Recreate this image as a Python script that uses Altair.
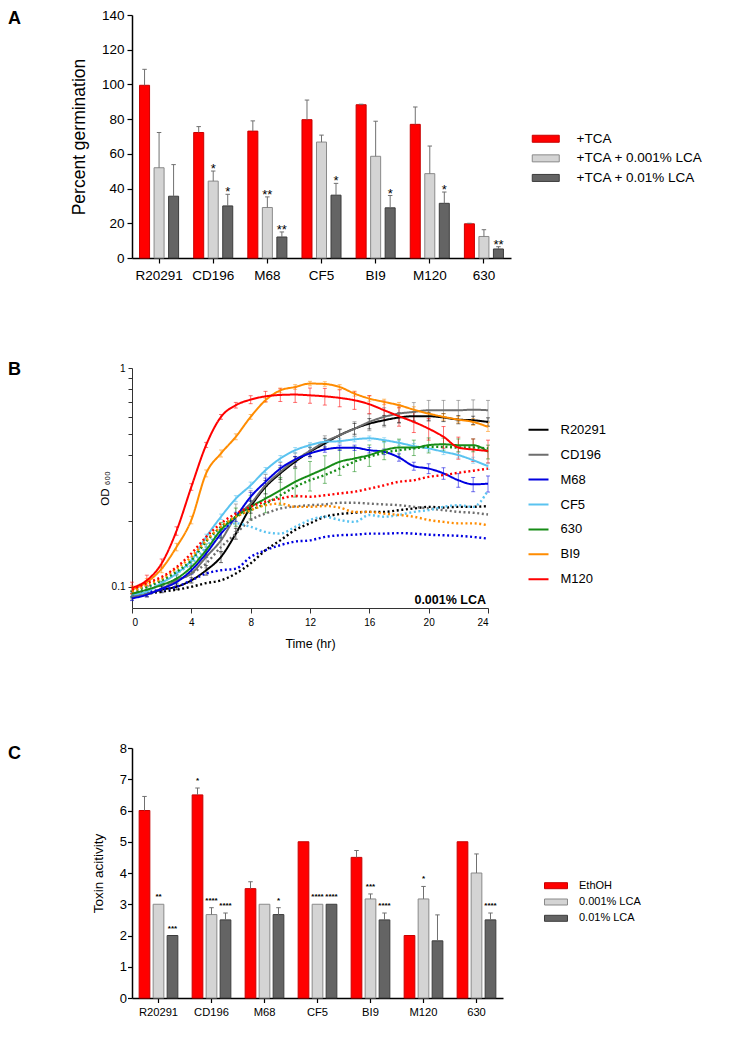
import altair as alt
import pandas as pd

FONT = "Liberation Sans"

# ---------------- Panel A : germination ----------------
strains = ["R20291", "CD196", "M68", "CF5", "BI9", "M120", "630"]
treat_A = ["+TCA", "+TCA + 0.001% LCA", "+TCA + 0.01% LCA"]
germ_tca = [99.5, 72.3, 73.1, 79.7, 88.3, 77.0, 19.7]
germ_tca_err = [9.2, 3.4, 5.9, 11.3, 0.3, 10.0, 0.3]
germ_lca1 = [52.0, 44.3, 29.1, 66.8, 58.6, 48.6, 12.4]
germ_lca1_err = [20.3, 5.8, 6.1, 4.0, 20.2, 15.9, 3.9]
germ_lca2 = [35.6, 30.0, 12.1, 36.2, 28.9, 31.5, 5.2]
germ_lca2_err = [18.2, 6.7, 2.9, 6.8, 7.1, 6.5, 1.3]
stars_A_tca = ["", "", "", "", "", "", ""]
stars_A_lca1 = ["", "*", "**", "", "", "", ""]
stars_A_lca2 = ["", "*", "**", "*", "*", "*", "**"]

# ---------------- Panel B : growth curves ----------------
hours = list(range(0, 25))
strains_B = ["R20291", "CD196", "M68", "CF5", "630", "BI9", "M120"]
colors_B = ["#000000", "#6e6e6e", "#0000e0", "#5ac3f0", "#168c16", "#ff8c00", "#ff0000"]

od_ctrl = {
    "R20291": [0.092, 0.093, 0.097, 0.100, 0.107, 0.119, 0.137, 0.175, 0.232, 0.286, 0.330, 0.373, 0.414,
               0.452, 0.493, 0.528, 0.557, 0.577, 0.594, 0.602, 0.602, 0.594, 0.581, 0.577, 0.567],
    "CD196": [0.090, 0.093, 0.098, 0.107, 0.115, 0.137, 0.163, 0.209, 0.240, 0.291, 0.335, 0.379, 0.418,
              0.460, 0.493, 0.528, 0.567, 0.598, 0.619, 0.630, 0.641, 0.641, 0.641, 0.645, 0.641],
    "M68": [0.0885, 0.092, 0.098, 0.105, 0.119, 0.142, 0.175, 0.209, 0.258, 0.302, 0.347, 0.382, 0.407,
            0.424, 0.432, 0.432, 0.421, 0.414, 0.390, 0.356, 0.347, 0.330, 0.307, 0.294, 0.296],
    "CF5": [0.092, 0.095, 0.104, 0.115, 0.132, 0.169, 0.209, 0.253, 0.291, 0.341, 0.386, 0.421, 0.444,
            0.460, 0.463, 0.472, 0.477, 0.468, 0.455, 0.440, 0.429, 0.414, 0.400, 0.379, 0.356],
    "630": [0.093, 0.097, 0.102, 0.109, 0.123, 0.147, 0.182, 0.209, 0.232, 0.253, 0.276, 0.302, 0.324,
            0.347, 0.373, 0.386, 0.400, 0.421, 0.433, 0.433, 0.444, 0.448, 0.444, 0.444, 0.414],
    "BI9": [0.097, 0.105, 0.121, 0.152, 0.202, 0.330, 0.407, 0.485, 0.598, 0.712, 0.790, 0.819, 0.849,
            0.845, 0.819, 0.764, 0.725, 0.700, 0.676, 0.645, 0.619, 0.598, 0.581, 0.567, 0.538],
    "M120": [0.099, 0.107, 0.128, 0.180, 0.286, 0.445, 0.598, 0.676, 0.717, 0.742, 0.753, 0.756, 0.750,
             0.742, 0.730, 0.712, 0.683, 0.641, 0.602, 0.567, 0.528, 0.485, 0.433, 0.424, 0.418],
}
od_err = {
    "R20291": [0.003, 0.003, 0.003, 0.003, 0.003, 0.006, 0.008, 0.010, 0.015, 0.020, 0.020, 0.020, 0.020,
               0.025, 0.030, 0.030, 0.030, 0.030, 0.030, 0.030, 0.025, 0.025, 0.025, 0.025, 0.025],
    "CD196": [0.003, 0.003, 0.004, 0.006, 0.010, 0.015, 0.020, 0.030, 0.035, 0.035, 0.035, 0.030, 0.030,
              0.030, 0.035, 0.040, 0.050, 0.060, 0.060, 0.065, 0.070, 0.070, 0.070, 0.070, 0.070],
    "M68": [0.002, 0.002, 0.003, 0.004, 0.005, 0.006, 0.008, 0.010, 0.012, 0.012, 0.012, 0.012, 0.012,
            0.012, 0.012, 0.012, 0.012, 0.012, 0.015, 0.015, 0.018, 0.020, 0.022, 0.022, 0.025],
    "CF5": [0.002, 0.002, 0.002, 0.003, 0.004, 0.005, 0.006, 0.008, 0.010, 0.010, 0.012, 0.012, 0.012,
            0.012, 0.012, 0.012, 0.012, 0.012, 0.012, 0.012, 0.012, 0.012, 0.012, 0.012, 0.012],
    "630": [0.003, 0.003, 0.004, 0.005, 0.008, 0.010, 0.015, 0.020, 0.030, 0.035, 0.040, 0.045, 0.050,
            0.050, 0.050, 0.050, 0.045, 0.040, 0.040, 0.035, 0.035, 0.030, 0.030, 0.030, 0.030],
    "BI9": [0.004, 0.004, 0.005, 0.006, 0.008, 0.012, 0.015, 0.015, 0.015, 0.015, 0.020, 0.020, 0.020,
            0.020, 0.020, 0.020, 0.020, 0.020, 0.020, 0.020, 0.020, 0.020, 0.020, 0.020, 0.025],
    "M120": [0.006, 0.006, 0.006, 0.008, 0.010, 0.012, 0.015, 0.020, 0.030, 0.040, 0.050, 0.060, 0.060,
             0.065, 0.065, 0.065, 0.065, 0.065, 0.060, 0.060, 0.060, 0.055, 0.050, 0.050, 0.050],
}
od_lca = {
    "R20291": [0.092, 0.093, 0.095, 0.097, 0.100, 0.104, 0.107, 0.115, 0.128, 0.147, 0.163, 0.182, 0.195,
               0.209, 0.215, 0.218, 0.220, 0.220, 0.224, 0.228, 0.232, 0.230, 0.232, 0.232, 0.234],
    "CD196": [0.093, 0.097, 0.102, 0.107, 0.115, 0.128, 0.152, 0.175, 0.202, 0.216, 0.228, 0.233, 0.236,
              0.238, 0.242, 0.242, 0.240, 0.238, 0.236, 0.232, 0.228, 0.224, 0.220, 0.218, 0.214],
    "M68": [0.093, 0.095, 0.097, 0.100, 0.107, 0.115, 0.119, 0.121, 0.137, 0.147, 0.155, 0.161, 0.163,
            0.169, 0.172, 0.173, 0.175, 0.175, 0.176, 0.175, 0.173, 0.172, 0.171, 0.169, 0.166],
    "CF5": [0.097, 0.100, 0.105, 0.115, 0.128, 0.152, 0.182, 0.195, 0.188, 0.178, 0.175, 0.188, 0.202,
            0.209, 0.202, 0.198, 0.213, 0.209, 0.213, 0.220, 0.224, 0.232, 0.236, 0.232, 0.276],
    "630": [0.095, 0.100, 0.107, 0.117, 0.132, 0.161, 0.188, 0.209, 0.224, 0.240, 0.262, 0.286, 0.307,
            0.324, 0.347, 0.373, 0.393, 0.410, 0.421, 0.429, 0.436, 0.436, 0.433, 0.433, 0.429],
    "BI9": [0.095, 0.102, 0.109, 0.121, 0.137, 0.163, 0.188, 0.209, 0.224, 0.236, 0.240, 0.232, 0.232,
            0.234, 0.230, 0.220, 0.220, 0.216, 0.213, 0.209, 0.202, 0.198, 0.195, 0.195, 0.191],
    "M120": [0.097, 0.104, 0.111, 0.123, 0.142, 0.169, 0.195, 0.216, 0.232, 0.245, 0.253, 0.260, 0.258,
             0.262, 0.267, 0.272, 0.281, 0.291, 0.302, 0.307, 0.318, 0.324, 0.332, 0.339, 0.347],
}
y_ticks_B = [0.1, 0.2, 0.3, 0.4, 0.5, 0.6, 0.7, 0.8, 0.9, 1.0]

# ---------------- Panel C : toxin activity ----------------
treat_C = ["EthOH", "0.001% LCA", "0.01% LCA"]
tox_eth = [6.0, 6.5, 3.5, 5.0, 4.5, 2.0, 5.0]
tox_eth_err = [0.45, 0.22, 0.22, 0.0, 0.22, 0.0, 0.0]
tox_lca1 = [3.0, 2.67, 3.0, 3.0, 3.17, 3.17, 4.0]
tox_lca1_err = [0.0, 0.22, 0.0, 0.0, 0.16, 0.40, 0.61]
tox_lca2 = [2.0, 2.5, 2.67, 3.0, 2.5, 1.83, 2.5]
tox_lca2_err = [0.0, 0.22, 0.22, 0.0, 0.22, 0.83, 0.22]
stars_C_eth = ["", "*", "", "", "", "", ""]
stars_C_lca1 = ["**", "****", "", "****", "***", "*", ""]
stars_C_lca2 = ["***", "****", "*", "****", "****", "", "****"]


def bar_frame(treats, vals, errs, stars):
    rows = []
    for ti, t in enumerate(treats):
        for si, s in enumerate(strains):
            v, e = vals[ti][si], errs[ti][si]
            rows.append(dict(strain=s, treat=t, value=v, err=e, top=v + e, star=stars[ti][si]))
    return pd.DataFrame(rows)


def anchor(y):
    # invisible spacer that fixes the vertical extent of a panel
    return alt.Chart(alt.Data(values=[{}])).mark_rule(opacity=0, strokeWidth=1).encode(
        x=alt.value(0), x2=alt.value(4), y=alt.value(y), y2=alt.value(y))


def panel_label(letter, y):
    return alt.Chart(alt.Data(values=[{}])).mark_text(
        text=letter, fontSize=18, fontWeight="bold", align="left", baseline="alphabetic", font=FONT
    ).encode(x=alt.value(-124), y=alt.value(y))


# wide, flat legend swatches (path wider than the nominal symbol size)
RECT_A = "M-3.857,-1L3.857,-1L3.857,1L-3.857,1Z"   # 27 x 7 px at size 49
RECT_C = "M-3.833,-1L3.833,-1L3.833,1L-3.833,1Z"   # 23 x 6 px at size 36

# ================= Panel A =================
A_W, A_H = 379, 243
dfA = bar_frame(treat_A, [germ_tca, germ_lca1, germ_lca2],
                [germ_tca_err, germ_lca1_err, germ_lca2_err],
                [stars_A_tca, stars_A_lca1, stars_A_lca2])

xA = alt.X("strain:N", sort=strains, scale=alt.Scale(domain=strains, paddingInner=0, paddingOuter=0),
           axis=alt.Axis(title=None, labelAngle=0, labelFontSize=13.5, labelColor="#000", labelPadding=5,
                         tickSize=5, tickColor="#000", tickWidth=1.2, domainColor="#000", domainWidth=1.5,
                         labelFont=FONT))
xoA = alt.XOffset("treat:N", sort=treat_A,
                  scale=alt.Scale(domain=treat_A, paddingInner=0.31, paddingOuter=0.52))
axisA_y = alt.Axis(title="Percent germination", values=list(range(0, 141, 20)), titleFontSize=17.5,
                   titleFontWeight="normal", titleColor="#000", titlePadding=13, titleFont=FONT,
                   labelFontSize=13.5, labelColor="#000", labelPadding=3, labelFont=FONT, tickSize=5,
                   tickColor="#000", tickWidth=1.2, domainColor="#000", domainWidth=1.5, grid=False)
scaleA_y = alt.Scale(domain=[0, 140], nice=False)

barsA = alt.Chart(dfA).mark_bar(strokeWidth=1).encode(
    x=xA, xOffset=xoA,
    y=alt.Y("value:Q", scale=scaleA_y, axis=axisA_y, title="Percent germination"),
    color=alt.Color("treat:N", sort=treat_A,
                    scale=alt.Scale(domain=treat_A, range=["#ff0000", "#d4d4d4", "#646464"]),
                    legend=alt.Legend(title=None, orient="none", legendX=407, legendY=117,
                                      symbolType=RECT_A, symbolSize=49, symbolStrokeWidth=1,
                                      symbolStrokeColor="#555", labelFontSize=13.5, labelFont=FONT,
                                      labelColor="#000", labelOffset=24, rowPadding=4.6, padding=0)),
    stroke=alt.Stroke("treat:N", sort=treat_A,
                      scale=alt.Scale(domain=treat_A, range=["#c80000", "#8a8a8a", "#3c3c3c"]),
                      legend=None),
)
errA = alt.Chart(dfA).transform_filter("datum.err > 0").mark_rule(color="#707070", strokeWidth=1).encode(
    x=xA, xOffset=xoA,
    y=alt.Y("value:Q", scale=scaleA_y, axis=axisA_y, title="Percent germination"),
    y2="top:Q")
capA = alt.Chart(dfA).transform_filter("datum.err > 0").mark_point(
    shape="stroke", size=20, color="#707070", strokeWidth=1, filled=False, opacity=1).encode(
    x=xA, xOffset=xoA,
    y=alt.Y("top:Q", scale=scaleA_y, axis=axisA_y, title="Percent germination"))
starA = alt.Chart(dfA).mark_text(fontSize=13, baseline="alphabetic", dy=2, font=FONT, color="#000").encode(
    x=xA, xOffset=xoA,
    y=alt.Y("top:Q", scale=scaleA_y, axis=axisA_y, title="Percent germination"),
    text="star:N")

panelA = alt.layer(barsA, errA, capA, starA, panel_label("A", 8.5), anchor(A_H + 30)).properties(
    width=A_W, height=A_H)

# ================= Panel B =================
B_W, B_H = 356, 240
rowsB = []
for s in strains_B:
    for i, t in enumerate(hours):
        v, e = od_ctrl[s][i], od_err[s][i]
        rowsB.append(dict(strain=s, cond="ctrl", t=t, od=v, lo=v - e, hi=v + e))
        rowsB.append(dict(strain=s, cond="lca", t=t, od=od_lca[s][i], lo=None, hi=None))
dfB = pd.DataFrame(rowsB)

xB = alt.X("t:Q", scale=alt.Scale(domain=[0, 24], nice=False),
           axis=alt.Axis(values=[0, 4, 8, 12, 16, 20, 24], title="Time (hr)", titleFontSize=12.5,
                         titleFontWeight="normal", titleColor="#000", titleFont=FONT, titlePadding=10,
                         labelFontSize=10, labelColor="#000", labelFont=FONT, labelPadding=4,
                         tickSize=5, tickColor="#333", domainColor="#333", grid=False))
scaleB_y = alt.Scale(type="log", domain=[0.08, 1], nice=False)
axisB_y = alt.Axis(values=y_ticks_B,
                   labelExpr="datum.value == 1 ? '1' : (datum.value == 0.1 ? '0.1' : '')",
                   title="OD ₆₀₀", titleFontSize=11.5, titleFontWeight="normal", titleColor="#000",
                   titleFont=FONT, titlePadding=1, labelFontSize=10, labelColor="#000", labelFont=FONT,
                   labelPadding=3, tickSize=4, tickColor="#333", domainColor="#333", grid=False)
colorB = alt.Color("strain:N", sort=strains_B, scale=alt.Scale(domain=strains_B, range=colors_B),
                   legend=alt.Legend(title=None, orient="none", legendX=395.5, legendY=50.8,
                                     symbolType="stroke", symbolSize=400, symbolStrokeWidth=2,
                                     symbolOpacity=1, symbolDash=[1, 0], labelFontSize=13,
                                     labelFont=FONT, labelColor="#000", labelOffset=11,
                                     rowPadding=6.9, padding=0))

ctrlB = alt.Chart(dfB).transform_filter("datum.cond == 'ctrl'")
errB = ctrlB.mark_rule(strokeWidth=1, opacity=0.55).encode(
    x=xB, y=alt.Y("lo:Q", scale=scaleB_y, axis=axisB_y, title="OD ₆₀₀"), y2="hi:Q", color=colorB)
capB_hi = ctrlB.mark_point(shape="stroke", size=16, strokeWidth=1, filled=False, opacity=0.55).encode(
    x=xB, y=alt.Y("hi:Q", scale=scaleB_y, axis=axisB_y, title="OD ₆₀₀"), color=colorB)
capB_lo = ctrlB.mark_point(shape="stroke", size=16, strokeWidth=1, filled=False, opacity=0.55).encode(
    x=xB, y=alt.Y("lo:Q", scale=scaleB_y, axis=axisB_y, title="OD ₆₀₀"), color=colorB)
linesB = alt.Chart(dfB).mark_line(interpolate="monotone").encode(
    x=xB, y=alt.Y("od:Q", scale=scaleB_y, axis=axisB_y, title="OD ₆₀₀"), color=colorB,
    strokeDash=alt.StrokeDash("cond:N", scale=alt.Scale(domain=["ctrl", "lca"], range=[[1, 0], [2, 2.6]]),
                              legend=None),
    strokeWidth=alt.StrokeWidth("cond:N", scale=alt.Scale(domain=["ctrl", "lca"], range=[2, 2.4]),
                                legend=None),
    order="t:Q")
lcaText = alt.Chart(alt.Data(values=[{}])).mark_text(
    text="0.001% LCA", fontSize=12.5, fontWeight="bold", align="right", baseline="alphabetic",
    font=FONT, color="#000").encode(x=alt.value(B_W - 2), y=alt.value(B_H - 4.5))

panelB = alt.layer(errB, capB_hi, capB_lo, linesB, lcaText, panel_label("B", 7.3),
                   anchor(-79.7), anchor(B_H + 45)).properties(width=B_W, height=B_H)

# ================= Panel C =================
C_W, C_H = 371, 250
dfC = bar_frame(treat_C, [tox_eth, tox_lca1, tox_lca2],
                [tox_eth_err, tox_lca1_err, tox_lca2_err],
                [stars_C_eth, stars_C_lca1, stars_C_lca2])
xC = alt.X("strain:N", sort=strains, scale=alt.Scale(domain=strains, paddingInner=0, paddingOuter=0),
           axis=alt.Axis(title=None, labelAngle=0, labelFontSize=11.2, labelColor="#000", labelPadding=4,
                         tickSize=4.5, tickColor="#000", tickWidth=1.2, domainColor="#000", domainWidth=1.5,
                         labelFont=FONT))
xoC = alt.XOffset("treat:N", sort=treat_C,
                  scale=alt.Scale(domain=treat_C, paddingInner=0.236, paddingOuter=0.511))
axisC_y = alt.Axis(title="Toxin acitivity", values=list(range(0, 9)), titleFontSize=13.5,
                   titleFontWeight="normal", titleColor="#000", titlePadding=14, titleFont=FONT,
                   labelFontSize=13, labelColor="#000", labelPadding=1, labelFont=FONT, tickSize=4.5,
                   tickColor="#000", tickWidth=1.2, domainColor="#000", domainWidth=1.5, grid=False)
scaleC_y = alt.Scale(domain=[0, 8], nice=False)

barsC = alt.Chart(dfC).mark_bar(strokeWidth=1).encode(
    x=xC, xOffset=xoC,
    y=alt.Y("value:Q", scale=scaleC_y, axis=axisC_y, title="Toxin acitivity"),
    color=alt.Color("treat:N", sort=treat_C,
                    scale=alt.Scale(domain=treat_C, range=["#ff0000", "#d4d4d4", "#646464"]),
                    legend=alt.Legend(title=None, orient="none", legendX=418.5, legendY=132.2,
                                      symbolType=RECT_C, symbolSize=36, symbolStrokeWidth=1,
                                      symbolStrokeColor="#555", labelFontSize=11, labelFont=FONT,
                                      labelColor="#000", labelOffset=17.5, rowPadding=4.3, padding=0)),
    stroke=alt.Stroke("treat:N", sort=treat_C,
                      scale=alt.Scale(domain=treat_C, range=["#c80000", "#8a8a8a", "#3c3c3c"]),
                      legend=None),
)
errC = alt.Chart(dfC).transform_filter("datum.err > 0").mark_rule(color="#707070", strokeWidth=1).encode(
    x=xC, xOffset=xoC,
    y=alt.Y("value:Q", scale=scaleC_y, axis=axisC_y, title="Toxin acitivity"),
    y2="top:Q")
capC = alt.Chart(dfC).transform_filter("datum.err > 0").mark_point(
    shape="stroke", size=20, color="#707070", strokeWidth=1, filled=False, opacity=1).encode(
    x=xC, xOffset=xoC,
    y=alt.Y("top:Q", scale=scaleC_y, axis=axisC_y, title="Toxin acitivity"))
starC = alt.Chart(dfC).mark_text(fontSize=8, fontWeight="bold", baseline="alphabetic", dy=-5,
                                 font=FONT, color="#000").encode(
    x=xC, xOffset=xoC,
    y=alt.Y("top:Q", scale=scaleC_y, axis=axisC_y, title="Toxin acitivity"),
    text="star:N")

panelC = alt.layer(barsC, errC, capC, starC, panel_label("C", 10.7), anchor(-94.6)).properties(
    width=C_W, height=C_H)

chart = alt.vconcat(panelA, panelB, panelC, spacing=0).resolve_scale(
    color="independent", stroke="independent", strokeDash="independent", strokeWidth="independent",
    x="independent", y="independent", xOffset="independent"
).resolve_legend(color="independent").properties(padding=0).configure(
    font=FONT).configure_view(stroke=None)

chart.save("out.html", embed_options={"renderer": "svg", "actions": False})
